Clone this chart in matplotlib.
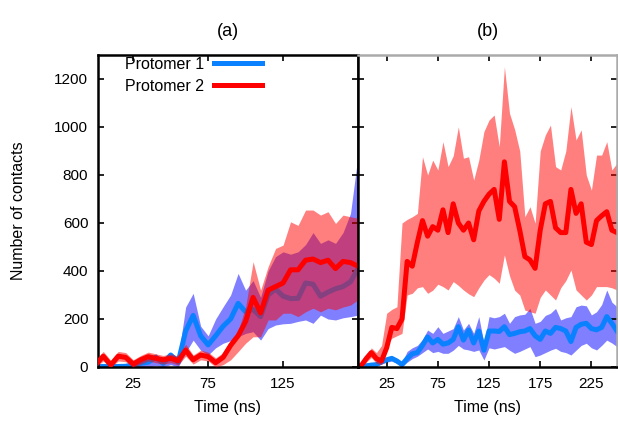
import numpy as np
import matplotlib
matplotlib.use("Agg")
import matplotlib.pyplot as plt

plt.rcParams["font.family"] = ["Liberation Sans", "DejaVu Sans"]

# ---- panel (a): time in ns, contacts per protomer ----
time_a = np.arange(0, 176, 5)
p1_a = [2, 2, 2, 2, 3, 8, 15, 20, 40, 15, 50, 20, 150, 215, 130, 92, 130, 170,
        200, 265, 230, 240, 210, 300, 325, 295, 285, 286, 350, 345, 295, 312,
        326, 335, 355, 410]
p1_a_lo = [0, 0, 0, 0, 0, 0, 0, 0, 5, 0, 10, 0, 60, 112, 70, 50, 80, 99,
           110, 126, 140, 147, 112, 160, 175, 180, 182, 190, 196, 182, 216, 200,
           196, 205, 210, 216]
p1_a_hi = [10, 10, 10, 10, 15, 20, 25, 35, 55, 30, 60, 40, 250, 307, 170, 130,
           200, 251, 300, 390, 320, 360, 290, 400, 460, 480, 470, 480, 510, 560,
           515, 530, 515, 560, 640, 880]
p2_a = [10, 45, 8, 45, 40, 12, 30, 43, 36, 30, 36, 26, 70, 30, 50, 43, 18, 40,
        90, 130, 190, 290, 225, 320, 335, 350, 405, 405, 445, 450, 435, 445,
        410, 440, 435, 420]
p2_a_lo = [0, 25, 0, 25, 22, 0, 12, 25, 18, 12, 18, 8, 45, 12, 30, 25, 0, 10,
           30, 64, 99, 126, 126, 196, 196, 224, 224, 210, 230, 245, 230, 245,
           238, 250, 258, 280]
p2_a_hi = [28, 65, 28, 65, 60, 30, 48, 62, 55, 48, 55, 45, 95, 50, 70, 62, 38, 60,
           112, 150, 250, 439, 320, 418, 494, 508, 605, 590, 654, 654, 633, 647,
           598, 633, 626, 620]

# ---- panel (b) ----
time_b = np.arange(0, 251, 5)
p1_b = [5, 5, 8, 10, 22, 30, 36, 25, 10, 35, 55, 60, 90, 125, 100, 115, 95, 100,
        115, 168, 112, 154, 100, 150, 70, 150, 150, 148, 168, 135, 140, 147, 150,
        160, 130, 115, 150, 140, 165, 160, 150, 106, 165, 178, 182, 160, 155, 165,
        210, 182, 150]
p1_b_lo = [0, 0, 2, 3, 12, 20, 25, 15, 2, 20, 35, 45, 60, 75, 60, 65, 57, 57,
           70, 90, 75, 71, 65, 71, 29, 80, 75, 80, 85, 70, 57, 65, 75, 85, 43, 50,
           60, 70, 78, 65, 60, 50, 70, 90, 99, 80, 71, 90, 112, 100, 85]
p1_b_hi = [10, 10, 15, 18, 30, 38, 45, 35, 20, 65, 80, 90, 115, 154, 140, 168,
           140, 150, 160, 210, 154, 182, 140, 210, 99, 210, 205, 210, 224, 182,
           210, 217, 220, 244, 182, 190, 215, 224, 244, 196, 205, 210, 251, 258,
           255, 217, 230, 260, 321, 270, 251]
p2_b = [5, 35, 60, 35, 25, 80, 165, 160, 200, 440, 420, 520, 610, 545, 585, 570,
        655, 560, 680, 600, 570, 600, 530, 650, 690, 720, 740, 615, 855, 690, 668,
        570, 460, 446, 411, 570, 680, 690, 580, 560, 560, 740, 640, 680, 520, 510,
        610, 630, 647, 570, 560]
p2_b_lo = [0, 20, 40, 15, 10, 90, 120, 130, 140, 300, 307, 330, 335, 307, 320,
           345, 335, 321, 356, 340, 321, 305, 293, 330, 362, 385, 370, 349, 467,
           380, 320, 300, 237, 230, 224, 290, 321, 300, 279, 330, 360, 404, 321,
           300, 279, 300, 335, 335, 335, 330, 321]
p2_b_hi = [10, 40, 80, 60, 90, 224, 240, 251, 600, 615, 626, 640, 876, 800, 862,
           821, 939, 835, 880, 1001, 870, 876, 779, 862, 981, 1029, 1050, 918,
           1251, 1057, 990, 900, 626, 668, 599, 900, 967, 1008, 835, 821, 900,
           1085, 946, 988, 800, 737, 883, 883, 939, 821, 849]

labels = ["Protomer 1", "Protomer 2"]
yticks = [0, 200, 400, 600, 800, 1000, 1200]
xticks_a = [25, 75, 125]
xticks_b = [25, 75, 125, 175, 225]

c_line1 = "#0a82ff"
c_band1 = (0.0, 0.0, 1.0, 0.5)
c_line2 = "#ff0000"
c_band2 = (1.0, 0.0, 0.0, 0.5)

fig = plt.figure(figsize=(6.18, 4.21), dpi=100)
W, H = 618, 421
ax_a = fig.add_axes([98 / W, 1 - 367 / H, 260 / W, 312 / H])
ax_b = fig.add_axes([358 / W, 1 - 367 / H, 259 / W, 312 / H])


def draw(ax, t, l1, lo1, hi1, l2, lo2, hi2):
    ax.fill_between(t, lo1, hi1, color=c_band1, lw=0, zorder=1)
    ax.plot(t, l1, color=c_line1, lw=3.6, label=labels[0], zorder=2,
            solid_joinstyle="round")
    ax.fill_between(t, lo2, hi2, color=c_band2, lw=0, zorder=3)
    ax.plot(t, l2, color=c_line2, lw=3.6, label=labels[1], zorder=4,
            solid_joinstyle="round")
    ax.set_ylim(0, 1300)
    ax.set_yticks(yticks)
    ax.tick_params(direction="in", length=4, width=1.2, top=True, right=True,
                   labelsize=11, pad=7)
    ax.set_xlabel("Time (ns)", fontsize=11.5, labelpad=7)


draw(ax_a, time_a, p1_a, p1_a_lo, p1_a_hi, p2_a, p2_a_lo, p2_a_hi)
draw(ax_b, time_b, p1_b, p1_b_lo, p1_b_hi, p2_b, p2_b_lo, p2_b_hi)

ax_a.set_xlim(1.5, 175)
ax_a.set_xticks(xticks_a)
ax_b.set_xlim(-3, 250)
ax_b.set_xticks(xticks_b)
ax_b.tick_params(labelleft=False)

ax_a.set_ylabel("Number of contacts", fontsize=11.5, labelpad=20)
ax_a.set_title("(a)", fontsize=13, pad=14)
ax_b.set_title("(b)", fontsize=13, pad=14)

for sp in ax_a.spines.values():
    sp.set_linewidth(1.8)
    sp.set_color("black")
for name, sp in ax_b.spines.items():
    sp.set_linewidth(1.8)
    sp.set_color("black" if name in ("left", "bottom") else "#aaaaaa")
    sp.set_zorder(6)

ax_a.legend(loc="upper left", bbox_to_anchor=(0.08, 1.015), frameon=False,
            markerfirst=False, fontsize=11.5, handlelength=3.0,
            handletextpad=0.6, labelspacing=0.45, borderaxespad=0)

fig.savefig("out.png", dpi=100)
